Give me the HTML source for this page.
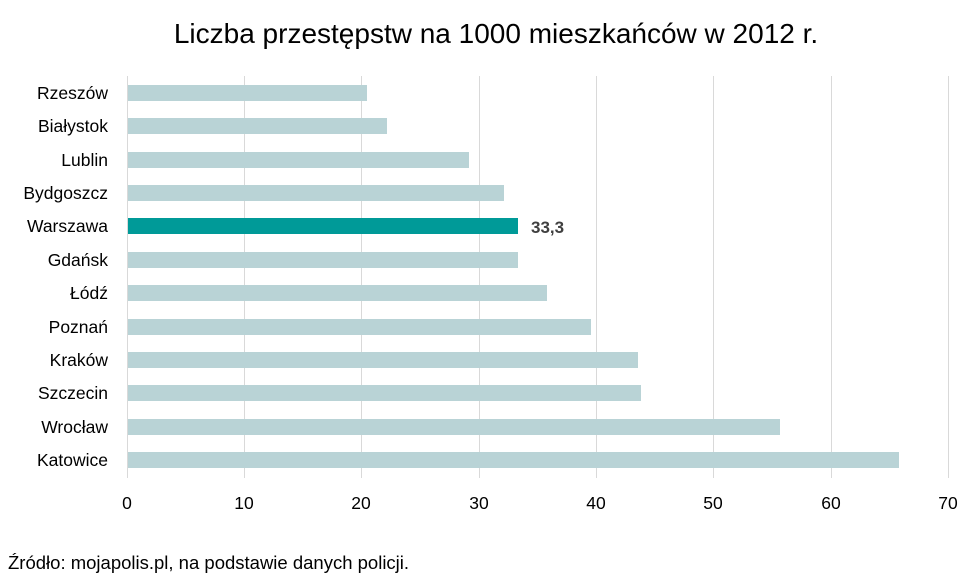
<!DOCTYPE html>
<html><head><meta charset="utf-8"><style>
body{margin:0;background:#fff;}
svg text{font-family:"Liberation Sans",sans-serif;}
</style></head><body>
<svg width="969" height="579" xmlns="http://www.w3.org/2000/svg">
<rect width="969" height="579" fill="#fff"/>
<text x="496" y="43" font-size="28" text-anchor="middle" fill="#000">Liczba przestępstw na 1000 mieszkańców w 2012 r.</text>
<g stroke="#d9d9d9" stroke-width="1">
<line x1="127.5" y1="76" x2="127.5" y2="478"/>
<line x1="244.5" y1="76" x2="244.5" y2="478"/>
<line x1="361.5" y1="76" x2="361.5" y2="478"/>
<line x1="479.5" y1="76" x2="479.5" y2="478"/>
<line x1="596.5" y1="76" x2="596.5" y2="478"/>
<line x1="713.5" y1="76" x2="713.5" y2="478"/>
<line x1="831.5" y1="76" x2="831.5" y2="478"/>
<line x1="948.5" y1="76" x2="948.5" y2="478"/>
</g>
<g fill="#b9d3d6">
<rect x="128" y="85" width="239" height="16"/>
<rect x="128" y="118" width="259" height="16"/>
<rect x="128" y="152" width="341" height="16"/>
<rect x="128" y="185" width="376" height="16"/>
<rect x="128" y="252" width="390" height="16"/>
<rect x="128" y="285" width="419" height="16"/>
<rect x="128" y="319" width="463" height="16"/>
<rect x="128" y="352" width="510" height="16"/>
<rect x="128" y="385" width="513" height="16"/>
<rect x="128" y="419" width="652" height="16"/>
<rect x="128" y="452" width="771" height="16"/>
</g>
<rect x="128" y="218" width="390" height="16" fill="#009a98"/>
<text x="531" y="233" font-size="17" font-weight="bold" fill="#404040">33,3</text>
<g font-size="17.5" fill="#000" text-anchor="end">
<text x="108" y="99">Rzeszów</text>
<text x="108" y="132">Białystok</text>
<text x="108" y="166">Lublin</text>
<text x="108" y="199">Bydgoszcz</text>
<text x="108" y="232">Warszawa</text>
<text x="108" y="266">Gdańsk</text>
<text x="108" y="299">Łódź</text>
<text x="108" y="333">Poznań</text>
<text x="108" y="366">Kraków</text>
<text x="108" y="399">Szczecin</text>
<text x="108" y="433">Wrocław</text>
<text x="108" y="466">Katowice</text>
</g>
<g font-size="17.5" fill="#000" text-anchor="middle">
<text x="127" y="509">0</text>
<text x="244" y="509">10</text>
<text x="361" y="509">20</text>
<text x="479" y="509">30</text>
<text x="596" y="509">40</text>
<text x="713" y="509">50</text>
<text x="831" y="509">60</text>
<text x="948" y="509">70</text>
</g>
<text x="8" y="569" font-size="18.5" fill="#000">Źródło: mojapolis.pl, na podstawie danych policji.</text>
</svg>
</body></html>
